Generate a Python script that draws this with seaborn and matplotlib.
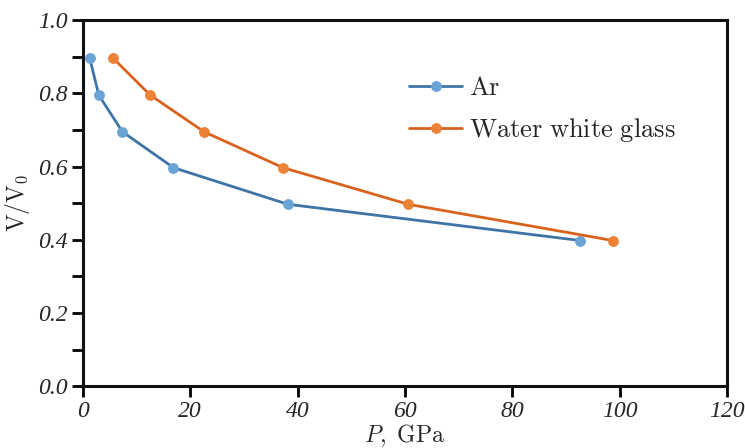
import matplotlib
matplotlib.use("Agg")
import matplotlib.pyplot as plt
import seaborn as sns
import pandas as pd
from matplotlib.ticker import MultipleLocator

p_ar = [1.3, 3.0, 7.4, 16.9, 38.2, 92.6]
v_ar = [0.897, 0.795, 0.695, 0.597, 0.497, 0.398]
p_glass = [5.6, 12.6, 22.6, 37.3, 60.6, 98.7]
v_glass = [0.897, 0.795, 0.695, 0.597, 0.497, 0.398]
series = ["Ar", "Water white glass"]
xticks = [0, 20, 40, 60, 80, 100, 120]
yticks = [0.0, 0.2, 0.4, 0.6, 0.8, 1.0]

df = pd.DataFrame({
    "P": p_ar + p_glass,
    "V": v_ar + v_glass,
    "series": [series[0]] * len(p_ar) + [series[1]] * len(p_glass),
})

sns.set_style("ticks")
plt.rcParams["mathtext.fontset"] = "cm"
plt.rcParams["font.family"] = ["DejaVu Serif"]

fig = plt.figure(figsize=(7.45, 4.48), dpi=100)
ax = fig.add_axes([0.111, 0.138, 0.865, 0.817])

line_colors = {"Ar": "#3f74a6", "Water white glass": "#d9621c"}
face_colors = {"Ar": "#6aa3d6", "Water white glass": "#eb8236"}

for s in series:
    sub = df[df["series"] == s]
    sns.lineplot(data=sub, x="P", y="V", ax=ax, color=line_colors[s],
                 linewidth=2.0, marker="o", markersize=7,
                 markerfacecolor=face_colors[s], markeredgecolor=face_colors[s],
                 label=r"$\mathrm{" + s.replace(" ", r"\ ") + "}$", sort=False)

ax.set_xlim(0, 120)
ax.set_ylim(0, 1.0)
ax.yaxis.set_minor_locator(MultipleLocator(0.1))

tick_font = dict(family="Liberation Serif", style="italic", size=17)
ax.set_xticks(xticks)
ax.set_xticklabels([str(v) for v in xticks], fontdict=tick_font)
ax.set_yticks(yticks)
ax.set_yticklabels(["%.1f" % v for v in yticks], fontdict=tick_font)

ax.tick_params(axis="both", which="major", direction="out", length=8, width=2,
               color="black", pad=3)
ax.tick_params(axis="y", which="minor", direction="out", length=8, width=2, color="black")

for sp in ax.spines.values():
    sp.set_linewidth(2.2)
    sp.set_color("#111111")

ax.set_xlabel(r"$P,\ \mathrm{GPa}$", fontsize=17, labelpad=0)
ax.set_ylabel(r"$\mathrm{V/V_0}$", fontsize=17, labelpad=4)

leg = ax.legend(loc="upper left", bbox_to_anchor=(0.47, 0.915), frameon=False,
                fontsize=19, handlelength=2.0, labelspacing=0.6, handletextpad=0.25)

fig.savefig("out.png", dpi=100, facecolor="white")
